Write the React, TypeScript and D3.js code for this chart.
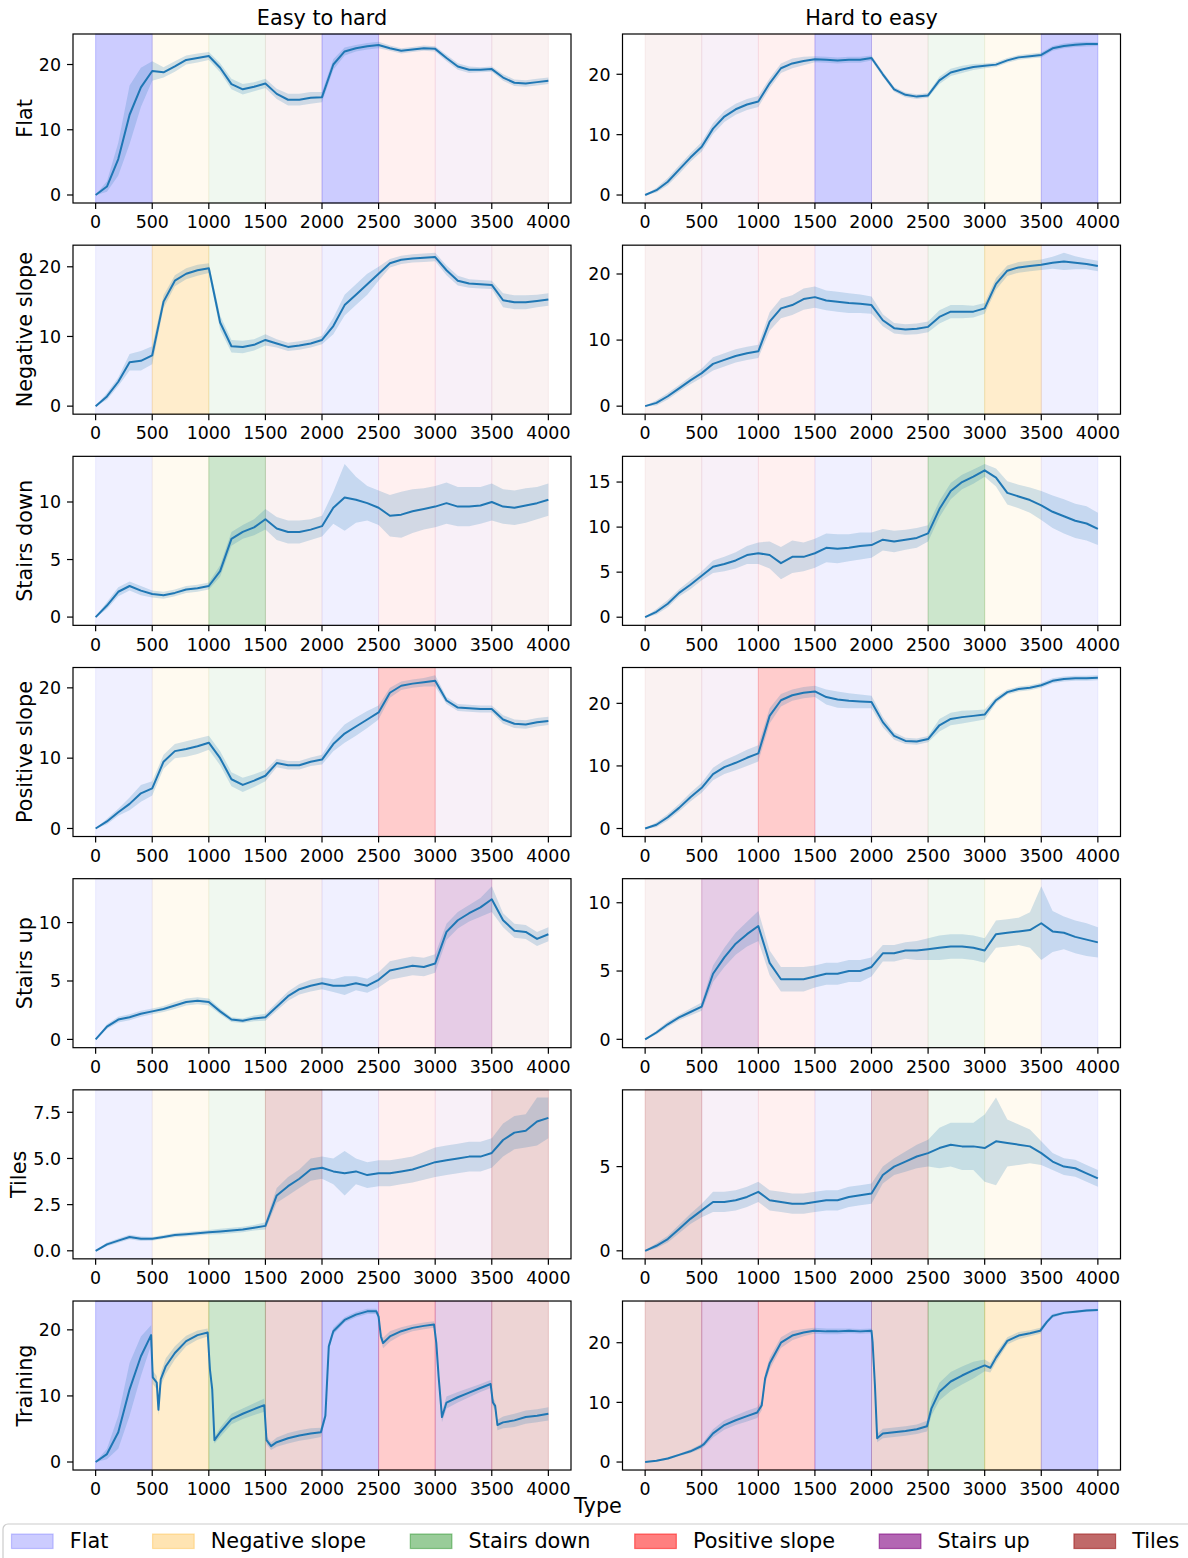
import React from "react";
import * as d3 from "d3";

// x grid of the regular series (training steps)
const steps = d3.range(0, 4001, 100);
const xTicks = [0, 500, 1000, 1500, 2000, 2500, 3000, 3500, 4000];

// terrain types and their colours
const terrains = ["Flat", "Negative slope", "Stairs down", "Positive slope", "Stairs up", "Tiles"];
const terrainColors = ["blue", "orange", "green", "red", "purple", "brown"];
const legendAlpha = [0.2, 0.3, 0.4, 0.5, 0.6, 0.7];

// curriculum order, one terrain per 500 steps
const easyOrder = ["Flat", "Negative slope", "Stairs down", "Tiles", "Flat", "Positive slope", "Stairs up", "Tiles"];
const hardOrder = ["Tiles", "Stairs up", "Positive slope", "Flat", "Tiles", "Stairs down", "Negative slope", "Flat"];

const rowNames = ["Flat", "Negative slope", "Stairs down", "Positive slope", "Stairs up", "Tiles", "Training"];
const colTitles = ["Easy to hard", "Hard to easy"];

const yTicksEasy = [[0, 10, 20], [0, 10, 20], [0, 5, 10], [0, 10, 20], [0, 5, 10], [0, 2.5, 5, 7.5], [0, 10, 20]];
const yTicksHard = [[0, 10, 20], [0, 10, 20], [0, 5, 10, 15], [0, 10, 20], [0, 5, 10], [0, 5], [0, 10, 20]];

// ---- evaluation reward, mean and spread, every 100 steps ----
const flatEasyMean = [0, 1.3, 5.5, 12.3, 16.5, 19.0, 18.8, 19.7, 20.7, 21.0, 21.3, 19.5, 17.0, 16.2, 16.6, 17.1, 15.5, 14.6, 14.6, 14.9, 15.0, 20.0, 22.0, 22.5, 22.8, 23.0, 22.5, 22.1, 22.3, 22.5, 22.4, 21.0, 19.7, 19.2, 19.2, 19.3, 18.0, 17.2, 17.1, 17.3, 17.5];
const flatEasyStd = [0.05, 0.8, 2.5, 4.5, 3.0, 1.5, 0.8, 0.8, 0.7, 0.7, 0.6, 0.7, 0.8, 0.8, 0.7, 0.7, 0.8, 0.9, 0.9, 0.9, 0.8, 0.8, 0.6, 0.5, 0.5, 0.5, 0.4, 0.4, 0.4, 0.4, 0.4, 0.5, 0.5, 0.5, 0.4, 0.4, 0.5, 0.5, 0.5, 0.5, 0.5];
const flatHardMean = [0, 0.8, 2.2, 4.2, 6.2, 8.0, 11.0, 13.0, 14.2, 15.0, 15.5, 18.5, 21.0, 21.8, 22.2, 22.5, 22.4, 22.3, 22.4, 22.4, 22.7, 20.0, 17.5, 16.6, 16.3, 16.5, 19.0, 20.3, 20.8, 21.2, 21.4, 21.6, 22.3, 22.8, 23.0, 23.2, 24.3, 24.7, 24.9, 25.0, 25.0];
const flatHardStd = [0.05, 0.4, 0.6, 0.7, 0.7, 0.8, 0.9, 0.9, 0.9, 0.9, 0.9, 0.8, 0.8, 0.8, 0.7, 0.5, 0.5, 0.5, 0.5, 0.5, 0.4, 0.4, 0.4, 0.4, 0.4, 0.4, 0.6, 0.6, 0.6, 0.5, 0.4, 0.4, 0.4, 0.4, 0.4, 0.4, 0.4, 0.4, 0.4, 0.4, 0.3];

const negEasyMean = [0, 1.4, 3.5, 6.3, 6.5, 7.3, 15.0, 18.0, 19.0, 19.5, 19.8, 12.0, 8.6, 8.5, 8.8, 9.5, 9.0, 8.5, 8.7, 9.0, 9.5, 11.5, 14.5, 16.0, 17.5, 19.0, 20.5, 21.0, 21.2, 21.3, 21.4, 19.5, 18.0, 17.6, 17.5, 17.4, 15.2, 14.9, 14.9, 15.1, 15.3];
const negEasyStd = [0.05, 0.5, 0.6, 1.2, 1.4, 1.3, 0.9, 0.8, 0.8, 0.8, 0.7, 1.0, 0.9, 0.9, 0.8, 0.8, 0.6, 0.6, 0.6, 0.6, 0.6, 1.2, 1.5, 1.5, 1.5, 1.0, 0.6, 0.6, 0.6, 0.6, 0.6, 0.7, 0.7, 0.6, 0.6, 0.6, 1.0, 1.0, 1.0, 0.9, 0.9];
const negHardMean = [0, 0.5, 1.5, 2.7, 3.9, 5.0, 6.4, 7.0, 7.6, 8.0, 8.3, 12.8, 14.8, 15.3, 16.2, 16.5, 16.0, 15.8, 15.6, 15.5, 15.3, 13.0, 11.8, 11.6, 11.7, 12.0, 13.5, 14.3, 14.3, 14.3, 14.8, 18.5, 20.5, 21.0, 21.2, 21.4, 21.7, 21.9, 21.7, 21.5, 21.2];
const negHardStd = [0.05, 0.4, 0.5, 0.5, 0.6, 0.7, 1.0, 1.0, 1.0, 1.0, 1.0, 1.4, 1.5, 1.5, 1.6, 1.6, 1.5, 1.5, 1.5, 1.4, 1.3, 0.9, 0.8, 0.8, 0.8, 0.8, 1.0, 1.0, 1.0, 0.9, 0.8, 0.9, 0.8, 0.8, 0.8, 0.8, 0.9, 1.3, 1.0, 0.8, 0.8];

const stairsDownEasyMean = [0, 1.0, 2.2, 2.7, 2.3, 2.0, 1.9, 2.1, 2.4, 2.5, 2.7, 4.0, 6.8, 7.4, 7.8, 8.5, 7.7, 7.4, 7.4, 7.6, 7.9, 9.5, 10.4, 10.2, 9.9, 9.5, 8.8, 8.9, 9.2, 9.4, 9.6, 9.9, 9.6, 9.6, 9.7, 10.0, 9.6, 9.5, 9.7, 9.9, 10.2];
const stairsDownEasyStd = [0.05, 0.3, 0.4, 0.4, 0.4, 0.3, 0.3, 0.3, 0.3, 0.3, 0.3, 0.5, 0.6, 0.6, 0.7, 0.9, 1.0, 1.0, 1.0, 0.9, 0.9, 1.4, 2.9, 2.0, 1.5, 1.5, 1.8, 2.0, 1.9, 1.8, 1.8, 1.8, 1.7, 1.7, 1.6, 1.6, 1.5, 1.5, 1.5, 1.4, 1.4];
const stairsDownHardMean = [0, 0.6, 1.5, 2.7, 3.6, 4.6, 5.6, 5.9, 6.3, 6.9, 7.1, 6.9, 6.0, 6.7, 6.7, 7.1, 7.7, 7.6, 7.7, 7.9, 8.0, 8.6, 8.4, 8.6, 8.8, 9.3, 12.0, 14.0, 15.0, 15.6, 16.3, 15.5, 13.8, 13.4, 13.0, 12.4, 11.7, 11.2, 10.7, 10.4, 9.8];
const stairsDownHardStd = [0.05, 0.3, 0.4, 0.4, 0.5, 0.5, 0.7, 0.8, 0.9, 1.0, 1.2, 1.5, 1.8, 1.8, 1.6, 1.6, 1.6, 1.6, 1.5, 1.5, 1.4, 1.2, 1.2, 1.1, 1.1, 0.9, 0.9, 0.9, 0.8, 0.8, 0.7, 1.0, 1.3, 1.3, 1.4, 1.6, 1.8, 1.9, 1.9, 1.9, 1.8];

const posEasyMean = [0, 1.0, 2.3, 3.5, 5.0, 5.7, 9.5, 11.0, 11.3, 11.7, 12.2, 10.0, 7.0, 6.2, 6.8, 7.5, 9.3, 9.0, 9.0, 9.5, 9.8, 12.0, 13.5, 14.5, 15.5, 16.5, 19.3, 20.3, 20.6, 20.8, 21.0, 18.2, 17.2, 17.1, 17.0, 17.0, 15.5, 14.9, 14.8, 15.1, 15.3];
const posEasyStd = [0.05, 0.4, 0.5, 0.9, 1.2, 1.0, 1.0, 1.0, 1.1, 1.1, 1.0, 1.0, 1.0, 1.0, 0.9, 0.8, 0.6, 0.6, 0.6, 0.6, 0.7, 1.0, 1.3, 1.3, 1.2, 1.0, 0.7, 0.6, 0.6, 0.6, 0.8, 0.5, 0.5, 0.5, 0.5, 0.5, 0.6, 0.6, 0.6, 0.6, 0.6];
const posHardMean = [0, 0.6, 1.8, 3.3, 5.0, 6.5, 8.7, 9.8, 10.5, 11.3, 12.0, 18.0, 20.5, 21.3, 21.7, 21.9, 21.0, 20.6, 20.4, 20.3, 20.2, 17.0, 14.8, 14.0, 13.9, 14.3, 16.5, 17.5, 17.8, 18.0, 18.2, 20.5, 21.8, 22.3, 22.5, 22.9, 23.6, 23.9, 24.0, 24.0, 24.1];
const posHardStd = [0.05, 0.4, 0.5, 0.6, 0.7, 0.8, 1.0, 1.1, 1.2, 1.3, 1.3, 1.2, 1.0, 0.9, 0.9, 0.9, 1.2, 1.3, 1.2, 1.1, 1.0, 0.8, 0.6, 0.5, 0.5, 0.5, 1.0, 1.0, 1.0, 0.9, 0.8, 0.5, 0.4, 0.4, 0.4, 0.4, 0.4, 0.4, 0.4, 0.4, 0.4];

const stairsUpEasyMean = [0, 1.1, 1.7, 1.9, 2.2, 2.4, 2.6, 2.9, 3.2, 3.3, 3.2, 2.4, 1.7, 1.6, 1.8, 1.9, 2.8, 3.7, 4.3, 4.6, 4.8, 4.6, 4.6, 4.8, 4.6, 5.1, 5.9, 6.1, 6.3, 6.2, 6.5, 9.2, 10.2, 10.8, 11.3, 12.0, 10.2, 9.3, 9.2, 8.6, 9.0];
const stairsUpEasyStd = [0.05, 0.2, 0.25, 0.25, 0.25, 0.25, 0.25, 0.3, 0.3, 0.3, 0.3, 0.25, 0.2, 0.2, 0.25, 0.3, 0.35, 0.4, 0.45, 0.5, 0.5, 0.55, 0.8, 0.6, 0.6, 0.65, 0.8, 0.8, 0.8, 0.8, 0.8, 0.7, 0.7, 0.7, 0.8, 1.1, 0.6, 0.6, 0.6, 0.6, 0.6];
const stairsUpHardMean = [0, 0.5, 1.1, 1.6, 2.0, 2.4, 4.8, 6.0, 7.0, 7.7, 8.3, 5.6, 4.4, 4.4, 4.4, 4.6, 4.8, 4.8, 5.0, 5.0, 5.3, 6.3, 6.3, 6.5, 6.5, 6.6, 6.7, 6.8, 6.8, 6.7, 6.5, 7.7, 7.8, 7.9, 8.0, 8.5, 7.9, 7.8, 7.5, 7.3, 7.1];
const stairsUpHardStd = [0.05, 0.15, 0.2, 0.2, 0.25, 0.3, 0.6, 0.7, 0.8, 0.9, 1.1, 0.9, 0.9, 0.9, 0.9, 0.8, 0.8, 0.8, 0.8, 0.8, 0.7, 0.6, 0.6, 0.6, 0.7, 0.8, 0.9, 0.9, 0.9, 0.9, 0.9, 1.0, 1.0, 1.0, 1.3, 2.7, 1.5, 1.2, 1.2, 1.2, 1.1];

const tilesEasyMean = [0, 0.35, 0.55, 0.75, 0.65, 0.65, 0.75, 0.85, 0.9, 0.95, 1.0, 1.05, 1.1, 1.15, 1.25, 1.35, 3.0, 3.5, 3.9, 4.4, 4.5, 4.3, 4.2, 4.3, 4.1, 4.2, 4.2, 4.3, 4.4, 4.6, 4.8, 4.9, 5.0, 5.1, 5.1, 5.3, 6.0, 6.4, 6.5, 7.0, 7.2];
const tilesEasyStd = [0.02, 0.1, 0.12, 0.12, 0.12, 0.1, 0.1, 0.12, 0.12, 0.12, 0.12, 0.15, 0.15, 0.15, 0.15, 0.2, 0.4, 0.5, 0.5, 0.6, 0.6, 0.7, 1.2, 0.7, 0.7, 0.7, 0.7, 0.7, 0.7, 0.75, 0.8, 0.8, 0.8, 0.8, 0.8, 0.8, 0.9, 0.9, 0.9, 1.3, 1.1];
const tilesHardMean = [0, 0.3, 0.7, 1.3, 1.9, 2.4, 2.9, 2.9, 3.0, 3.2, 3.5, 3.0, 2.9, 2.8, 2.8, 2.9, 3.0, 3.0, 3.2, 3.3, 3.4, 4.5, 5.0, 5.3, 5.6, 5.8, 6.1, 6.3, 6.2, 6.2, 6.1, 6.5, 6.4, 6.3, 6.2, 5.8, 5.3, 5.0, 4.9, 4.6, 4.3];
const tilesHardStd = [0.02, 0.15, 0.2, 0.25, 0.3, 0.4, 0.6, 0.6, 0.6, 0.6, 0.6, 0.6, 0.6, 0.6, 0.6, 0.6, 0.6, 0.6, 0.6, 0.6, 0.6, 0.5, 0.5, 0.6, 0.7, 0.8, 1.2, 1.3, 1.4, 1.4, 2.0, 2.6, 1.4, 1.2, 1.0, 0.7, 0.5, 0.5, 0.5, 0.5, 0.5];

// ---- training reward: irregular steps so the jumps at terrain changes stay sharp ----
const trainEasySteps = [0, 100, 200, 300, 400, 490, 505, 540, 555, 575, 620, 700, 800, 900, 990, 1010, 1030, 1050, 1100, 1200, 1300, 1400, 1490, 1510, 1550, 1600, 1700, 1800, 1900, 1990, 2030, 2060, 2100, 2200, 2300, 2400, 2480, 2500, 2520, 2540, 2600, 2700, 2800, 2900, 2990, 3010, 3030, 3060, 3100, 3200, 3300, 3400, 3490, 3510, 3530, 3550, 3600, 3700, 3800, 3900, 4000];
const trainEasyMean = [0, 1.2, 4.5, 11.0, 16.0, 19.2, 12.8, 12.0, 7.9, 12.5, 14.5, 16.5, 18.3, 19.2, 19.6, 14.0, 11.0, 3.3, 4.5, 6.5, 7.3, 8.0, 8.6, 3.3, 2.4, 3.0, 3.6, 4.0, 4.3, 4.5, 7.0, 17.5, 19.8, 21.5, 22.3, 22.8, 22.8, 22.0, 19.0, 18.0, 19.0, 19.8, 20.3, 20.6, 20.8, 18.0, 13.0, 6.8, 9.0, 9.8, 10.5, 11.2, 11.8, 9.0, 8.5, 5.6, 6.0, 6.3, 6.8, 7.0, 7.3];
const trainEasyStd = [0.05, 0.8, 2.5, 4.0, 3.0, 1.5, 1.0, 1.0, 0.8, 1.0, 1.2, 1.0, 0.8, 0.7, 0.6, 0.8, 0.8, 0.5, 0.7, 0.8, 0.8, 0.9, 1.0, 0.6, 0.6, 0.7, 0.8, 0.8, 0.8, 0.7, 0.6, 0.6, 0.5, 0.4, 0.4, 0.4, 0.4, 0.4, 0.6, 0.8, 0.8, 0.6, 0.5, 0.5, 0.5, 0.5, 0.6, 0.8, 0.9, 0.8, 0.7, 0.6, 0.6, 0.6, 0.7, 0.8, 0.9, 1.0, 1.0, 1.0, 1.0];

const trainHardSteps = [0, 100, 200, 300, 400, 490, 520, 600, 700, 800, 900, 990, 1030, 1060, 1100, 1200, 1300, 1400, 1490, 1600, 1700, 1800, 1900, 2000, 2010, 2030, 2050, 2100, 2200, 2300, 2400, 2490, 2530, 2600, 2700, 2800, 2900, 3000, 3050, 3100, 3200, 3300, 3400, 3490, 3550, 3600, 3700, 3800, 3900, 4000];
const trainHardMean = [0, 0.2, 0.6, 1.2, 1.8, 2.6, 3.0, 4.8, 6.2, 7.0, 7.7, 8.3, 9.5, 14.0, 16.5, 20.0, 21.2, 21.7, 22.0, 21.9, 21.9, 22.0, 21.9, 22.0, 20.0, 13.0, 4.0, 4.8, 5.0, 5.2, 5.5, 6.0, 9.0, 11.8, 13.5, 14.5, 15.4, 16.2, 15.8, 17.5, 20.3, 21.2, 21.6, 22.0, 23.5, 24.5, 25.0, 25.2, 25.4, 25.5];
const trainHardStd = [0.05, 0.1, 0.2, 0.2, 0.3, 0.4, 0.5, 0.7, 0.8, 0.8, 0.9, 0.9, 0.8, 0.9, 1.0, 0.9, 0.8, 0.6, 0.5, 0.5, 0.5, 0.4, 0.4, 0.4, 0.5, 0.7, 0.7, 0.8, 0.8, 0.8, 0.8, 0.9, 1.2, 1.5, 1.6, 1.5, 1.4, 1.0, 0.8, 0.8, 0.6, 0.6, 0.5, 0.5, 0.3, 0.3, 0.2, 0.2, 0.2, 0.2];

const easySeries = [
  { steps, mean: flatEasyMean, std: flatEasyStd },
  { steps, mean: negEasyMean, std: negEasyStd },
  { steps, mean: stairsDownEasyMean, std: stairsDownEasyStd },
  { steps, mean: posEasyMean, std: posEasyStd },
  { steps, mean: stairsUpEasyMean, std: stairsUpEasyStd },
  { steps, mean: tilesEasyMean, std: tilesEasyStd },
  { steps: trainEasySteps, mean: trainEasyMean, std: trainEasyStd },
];
const hardSeries = [
  { steps, mean: flatHardMean, std: flatHardStd },
  { steps, mean: negHardMean, std: negHardStd },
  { steps, mean: stairsDownHardMean, std: stairsDownHardStd },
  { steps, mean: posHardMean, std: posHardStd },
  { steps, mean: stairsUpHardMean, std: stairsUpHardStd },
  { steps, mean: tilesHardMean, std: tilesHardStd },
  { steps: trainHardSteps, mean: trainHardMean, std: trainHardStd },
];

// layout (px)
const FIG_W = 1188;
const FIG_H = 1558;
const colLeft = [73, 622.5];
const panelW = 498;
const panelH = 169;
const rowTop0 = 34;
const rowGap = 211.17;
const FONT = "DejaVu Sans";
const tickFs = 17.4;
const labelFs = 20.8;
const lineBlue = "#1f77b4";

const colorOf = (t: string) => terrainColors[terrains.indexOf(t)];

const measure = (() => {
  const c = typeof document !== "undefined" ? document.createElement("canvas").getContext("2d") : null;
  return (text: string, size: number) => {
    if (!c) return text.length * size * 0.6;
    c.font = `${size}px ${FONT}`;
    return c.measureText(text).width;
  };
})();

type Series = { steps: number[]; mean: number[]; std: number[] };

const Panel = (props: {
  left: number; top: number; series: Series; bands: string[]; row: string; yTicks: number[]; ylabel?: string;
}) => {
  const { left, top, series, bands, row, yTicks, ylabel } = props;
  const bottom = top + panelH;
  const x = d3.scaleLinear().domain([-200, 4200]).range([left, left + panelW]);
  const pts = series.steps.map((s, i) => ({ s, m: series.mean[i], sd: series.std[i] }));
  const lo = d3.min(pts, (p) => p.m - p.sd) as number;
  const hi = d3.max(pts, (p) => p.m + p.sd) as number;
  const pad = (hi - lo) * 0.05;
  const y = d3.scaleLinear().domain([lo - pad, hi + pad]).range([bottom, top]);

  const area = d3.area<typeof pts[0]>().x((p) => x(p.s)).y0((p) => y(p.m - p.sd)).y1((p) => y(p.m + p.sd));
  const line = d3.line<typeof pts[0]>().x((p) => x(p.s)).y((p) => y(p.m));

  const decimals = yTicks.some((t) => !Number.isInteger(t));
  const fmt = (t: number) => (decimals ? t.toFixed(1) : String(t));
  const tickW = d3.max(yTicks, (t) => measure(fmt(t), tickFs)) as number;

  return (
    <g>
      {bands.map((t, i) => {
        const strong = row === "Training" || t === row;
        const op = strong ? 0.2 : 0.06;
        const x0 = x(i * 500);
        const x1 = x((i + 1) * 500);
        return (
          <rect key={i} x={x0} y={top} width={x1 - x0} height={panelH}
            fill={colorOf(t)} fillOpacity={op} stroke={colorOf(t)} strokeOpacity={op} strokeWidth={1} />
        );
      })}
      <path d={area(pts) as string} fill={lineBlue} fillOpacity={0.2} />
      <path d={line(pts) as string} fill="none" stroke={lineBlue} strokeWidth={2} strokeLinejoin="round" />
      <rect x={left} y={top} width={panelW} height={panelH} fill="none" stroke="#000" strokeWidth={1.2} />
      {xTicks.map((t) => (
        <g key={t}>
          <line x1={x(t)} x2={x(t)} y1={bottom} y2={bottom + 6} stroke="#000" strokeWidth={1.2} />
          <text x={x(t)} y={bottom + 12} dy="0.76em" textAnchor="middle" fontSize={tickFs} fontFamily={FONT} fill="#000">{t}</text>
        </g>
      ))}
      {yTicks.map((t) => (
        <g key={t}>
          <line x1={left - 6} x2={left} y1={y(t)} y2={y(t)} stroke="#000" strokeWidth={1.2} />
          <text x={left - 12} y={y(t)} dy="0.36em" textAnchor="end" fontSize={tickFs} fontFamily={FONT} fill="#000">{fmt(t)}</text>
        </g>
      ))}
      {ylabel && (
        <text transform={`translate(${left - 12 - tickW - 7},${top + panelH / 2}) rotate(-90)`}
          textAnchor="middle" fontSize={labelFs} fontFamily={FONT} fill="#000">{ylabel}</text>
      )}
    </g>
  );
};

const Legend = () => {
  const patchW = 2 * labelFs;
  const textPad = 0.8 * labelFs;
  const colSpace = 2 * labelFs + 2.6;
  let cursor = 11.5;
  const items = terrains.map((t, i) => {
    const px = cursor;
    const w = measure(t, labelFs);
    cursor += patchW + textPad + w + colSpace;
    return { t, i, px };
  });
  return (
    <g>
      <rect x={3} y={1524} width={FIG_W + 20} height={60} rx={5} fill="#fff" fillOpacity={0.8} stroke="#cccccc" strokeWidth={1.2} />
      {items.map(({ t, i, px }) => (
        <g key={t}>
          <rect x={px} y={1534} width={patchW} height={14.5}
            fill={terrainColors[i]} fillOpacity={legendAlpha[i]} stroke={terrainColors[i]} strokeOpacity={legendAlpha[i]} strokeWidth={1.2} />
          <text x={px + patchW + textPad} y={1541} dy="0.36em" fontSize={labelFs} fontFamily={FONT} fill="#000">{t}</text>
        </g>
      ))}
    </g>
  );
};

export default function App() {
  return (
    <svg width={FIG_W} height={FIG_H} style={{ position: "absolute", left: 0, top: 0, background: "#fff" }}>
      <rect x={0} y={0} width={FIG_W} height={FIG_H} fill="#fff" />
      {colTitles.map((title, c) => (
        <text key={title} x={colLeft[c] + panelW / 2} y={25} textAnchor="middle" fontSize={labelFs} fontFamily={FONT} fill="#000">{title}</text>
      ))}
      {rowNames.map((row, r) => (
        <g key={row}>
          <Panel left={colLeft[0]} top={rowTop0 + r * rowGap} series={easySeries[r]} bands={easyOrder} row={row} yTicks={yTicksEasy[r]} ylabel={row} />
          <Panel left={colLeft[1]} top={rowTop0 + r * rowGap} series={hardSeries[r]} bands={hardOrder} row={row} yTicks={yTicksHard[r]} />
        </g>
      ))}
      <text x={598} y={1513} textAnchor="middle" fontSize={labelFs} fontFamily={FONT} fill="#000">Type</text>
      <Legend />
    </svg>
  );
}
